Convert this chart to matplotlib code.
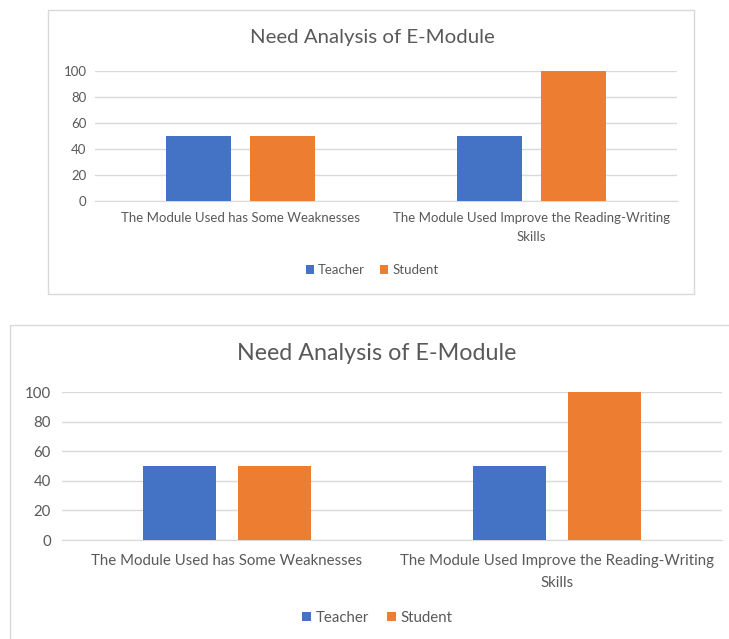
import matplotlib
matplotlib.use("Agg")
import matplotlib.pyplot as plt
from matplotlib.patches import Rectangle, Patch
import numpy as np

plt.rcParams['font.family'] = ['Lato', 'DejaVu Sans']

categories = ["The Module Used has Some Weaknesses",
              "The Module Used Improve the Reading-Writing\nSkills"]
series_names = ["Teacher", "Student"]
teacher = [50, 50]
student = [50, 100]
yticks = [0, 20, 40, 60, 80, 100]
title = "Need Analysis of E-Module"

BLUE = "#4472C4"
ORANGE = "#ED7D31"
GRID = "#D9D9D9"
TXT = "#595959"

W, H = 729, 639
fig = plt.figure(figsize=(W / 100, H / 100), dpi=100)
fig.patch.set_facecolor("white")


def px_rect(x0, y0, x1, y1):
    return [x0 / W, 1 - y1 / H, (x1 - x0) / W, (y1 - y0) / H]


def draw_chart(ax_px, scale, title_y, legend_y, box, cx, ypad, xpad):
    bx0, by0, bx1, by1 = box
    fig.patches.append(Rectangle((bx0 / W, 1 - by1 / H), (bx1 - bx0) / W, (by1 - by0) / H,
                                 transform=fig.transFigure, fill=False,
                                 edgecolor=GRID, linewidth=1.0, clip_on=False))
    ax = fig.add_axes(px_rect(*ax_px))
    x = np.arange(len(categories))
    bw = 0.223
    off = 0.1435
    ax.bar(x - off, teacher, bw, color=BLUE, label=series_names[0], zorder=3)
    ax.bar(x + off, student, bw, color=ORANGE, label=series_names[1], zorder=3)
    ax.set_xlim(-0.5, len(categories) - 0.5)
    ax.set_ylim(0, 100)
    ax.set_yticks(yticks)
    ax.yaxis.grid(True, color=GRID, linewidth=1.0, zorder=0)
    ax.set_axisbelow(True)
    for s in ["top", "right", "left"]:
        ax.spines[s].set_visible(False)
    ax.spines["bottom"].set_color(GRID)
    ax.tick_params(axis="y", length=0, pad=ypad, labelsize=9.5 * scale, labelcolor=TXT)
    ax.tick_params(axis="x", length=0, pad=xpad, labelsize=9.5 * scale, labelcolor=TXT)
    ax.set_xticks(x)
    ax.set_xticklabels(categories, linespacing=1.7)
    fig.text(cx / W, 1 - title_y / H, title, ha="center", va="center",
             fontsize=14.7 * scale, color=TXT)
    handles = [Patch(facecolor=BLUE), Patch(facecolor=ORANGE)]
    fig.legend(handles, series_names, loc="center", bbox_to_anchor=(cx / W, 1 - legend_y / H),
               ncol=2, frameon=False, fontsize=9.5 * scale, handlelength=0.6, handleheight=0.6,
               handletextpad=0.3, columnspacing=1.2, labelcolor=TXT)
    return ax


draw_chart((95, 71, 677, 201), 1.0, 38, 270, (48, 10, 694, 294), 372, 6, 8)
draw_chart((62, 392, 722, 540), 1.14, 354, 618, (10, 325, 740, 660), 377, 8, 10)

fig.savefig("out.png", dpi=100, facecolor="white")
